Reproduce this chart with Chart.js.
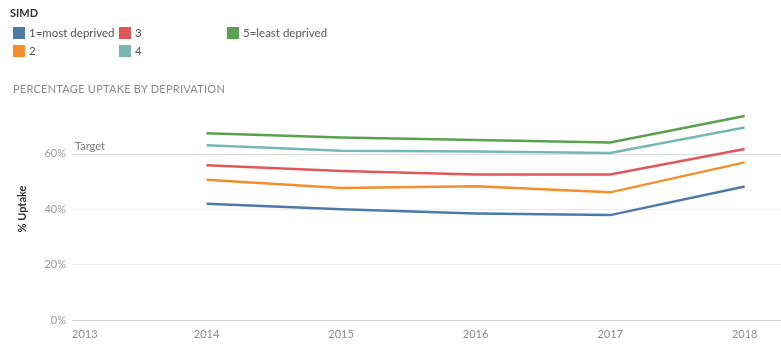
<!DOCTYPE html>
<html>
<head>
<meta charset="utf-8">
<script src="https://cdn.jsdelivr.net/npm/chart.js@4/dist/chart.umd.min.js"></script>
<style>
  html, body { margin: 0; padding: 0; background: #fff; }
  #wrap { position: relative; width: 781px; height: 354px; overflow: hidden; font-family: Lato, "Open Sans", sans-serif; }
  #chart { position: absolute; left: 0; top: 0; }
  #legendTitle { position: absolute; left: 10px; top: 6px; font-size: 11px; font-weight: bold; color: #333; }
  .item { position: absolute; font-size: 11.5px; color: #555; white-space: nowrap; line-height: 12px; }
  .sw { display: inline-block; width: 12px; height: 12px; vertical-align: top; margin-right: 4px; }
  #title { position: absolute; left: 13px; top: 82px; font-size: 11px; color: #8a8a8a; letter-spacing: 0.25px; }
</style>
</head>
<body>
<div id="wrap">
  <canvas id="chart" width="789" height="354"></canvas>
  <div id="legendTitle">SIMD</div>
  <div id="title">PERCENTAGE UPTAKE BY DEPRIVATION</div>
</div>
<script>
// ---- data ----
const years = [2013, 2014, 2015, 2016, 2017, 2018];
const dataYears = [2014, 2015, 2016, 2017, 2018];
const seriesNames = ["1=most deprived", "2", "3", "4", "5=least deprived"];
const seriesColors = ["#4e79a7", "#f28e2b", "#e15759", "#76b7b2", "#59a14f"];
const simd1 = [41.9, 39.9, 38.4, 37.8, 48.1];
const simd2 = [50.5, 47.6, 48.2, 46.0, 56.8];
const simd3 = [55.8, 53.7, 52.4, 52.4, 61.6];
const simd4 = [63.0, 61.0, 60.7, 60.2, 69.4];
const simd5 = [67.3, 65.8, 64.9, 64.0, 73.5];
const yTicks = [0, 20, 40, 60];
const target = 60;
const targetLabel = "Target";
const yTitle = "% Uptake";

const seriesValues = [simd1, simd2, simd3, simd4, simd5];

// legend (HTML) built from arrays
const legendPos = [[13, 27], [13, 45], [119, 27], [119, 45], [227, 27]];
const wrap = document.getElementById('wrap');
seriesNames.forEach((n, i) => {
  const d = document.createElement('div');
  d.className = 'item';
  d.style.left = legendPos[i][0] + 'px';
  d.style.top = legendPos[i][1] + 'px';
  d.innerHTML = '<span class="sw" style="background:' + seriesColors[i] + '"></span>' + n;
  wrap.appendChild(d);
});

const xMin = 2013, xMax = 2018.27;

const targetPlugin = {
  id: 'targetLine',
  beforeDatasetsDraw(chart) {
    const {ctx, chartArea, scales} = chart;
    const y = scales.y.getPixelForValue(target);
    ctx.save();
    ctx.strokeStyle = '#dedede';
    ctx.lineWidth = 1;
    ctx.beginPath();
    ctx.moveTo(chartArea.left, Math.round(y) + 0.5);
    ctx.lineTo(chartArea.right, Math.round(y) + 0.5);
    ctx.stroke();
    ctx.fillStyle = '#7a7a7a';
    ctx.font = '11px Lato, "Open Sans", sans-serif';
    ctx.textAlign = 'left';
    ctx.textBaseline = 'middle';
    ctx.fillText(targetLabel, chartArea.left + 3, y - 7);
    ctx.restore();
  }
};

new Chart(document.getElementById('chart'), {
  type: 'line',
  data: {
    datasets: seriesNames.map((n, i) => ({
      label: n,
      data: dataYears.map((yr, j) => ({x: yr, y: seriesValues[i][j]})),
      borderColor: seriesColors[i],
      backgroundColor: seriesColors[i],
      borderWidth: 2.5,
      pointRadius: 0,
      tension: 0
    })).reverse()
  },
  options: {
    responsive: false,
    animation: false,
    events: [],
    layout: { padding: { top: 98, left: 0, right: 0, bottom: 0 } },
    plugins: { legend: { display: false }, tooltip: { enabled: false } },
    scales: {
      x: {
        type: 'linear',
        min: xMin,
        max: xMax,
        afterBuildTicks(scale) {
          scale.ticks = years.map(v => ({value: v})).concat([{value: xMax}]);
        },
        afterFit(scale) { scale.height = 34; },
        grid: { display: false, drawTicks: false },
        border: { display: true, color: '#cfcfcf', dash: [2, 1] },
        ticks: {
          align: 'inner',
          padding: 8,
          maxRotation: 0,
          autoSkip: false,
          color: '#8c8c8c',
          font: { family: 'Lato, "Open Sans", sans-serif', size: 11 },
          callback: (v) => (Number.isInteger(v) ? String(v) : '')
        }
      },
      y: {
        min: 0,
        max: 80,
        afterBuildTicks(scale) {
          scale.ticks = yTicks.map(v => ({value: v}));
        },
        afterFit(scale) { scale.width = 72; },
        grid: {
          drawTicks: false,
          color: (c) => (c.tick && (c.tick.value === 0 || c.tick.value === target)) ? 'rgba(0,0,0,0)' : '#ececec'
        },
        border: { display: false },
        ticks: {
          padding: 6,
          color: '#9a9a9a',
          font: { family: 'Lato, "Open Sans", sans-serif', size: 11 },
          callback: (v) => v + '%'
        },
        title: {
          display: true,
          text: yTitle,
          color: '#333',
          font: { family: 'Lato, "Open Sans", sans-serif', size: 11, weight: 'bold' },
          padding: { top: 16, bottom: 0 }
        }
      }
    }
  },
  plugins: [targetPlugin]
});
</script>
</body>
</html>
